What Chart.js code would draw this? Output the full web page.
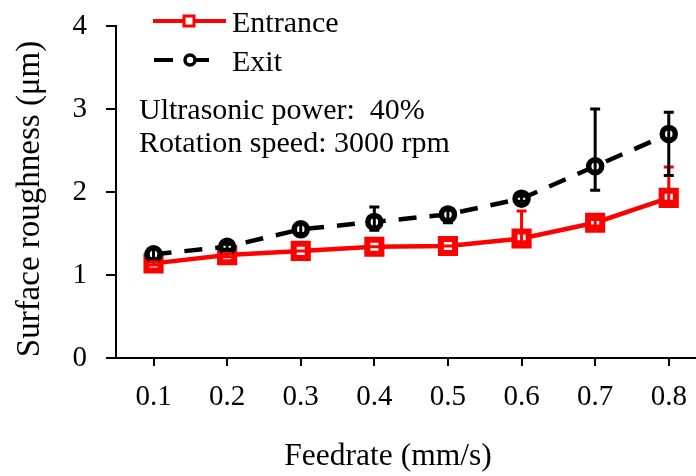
<!DOCTYPE html>
<html>
<head>
<meta charset="utf-8">
<script src="https://cdn.jsdelivr.net/npm/chart.js@4.4.1/dist/chart.umd.min.js"></script>
<style>
  html, body { margin: 0; padding: 0; background: #fff; overflow: hidden; }
  #wrap { width: 696px; height: 476px; position: relative; }
</style>
</head>
<body>
<div id="wrap"><canvas id="myChart"></canvas></div>
<script>
const feedrates = [0.1, 0.2, 0.3, 0.4, 0.5, 0.6, 0.7, 0.8];
const entrance = [1.14, 1.24, 1.29, 1.34, 1.35, 1.44, 1.63, 1.93];
const entrancePlus = [0.02, 0.02, 0, 0, 0, 0.33, 0.04, 0.37];
const entranceMinus = [0.02, 0.02, 0, 0, 0, 0.04, 0.04, 0.04];
const exit = [1.25, 1.34, 1.55, 1.64, 1.73, 1.92, 2.31, 2.70];
const exitPlus = [0.07, 0.03, 0.06, 0.18, 0.05, 0.03, 0.69, 0.26];
const exitMinus = [0.05, 0.03, 0.05, 0.10, 0.10, 0.03, 0.29, 0.50];
const yTicks = [0, 1, 2, 3, 4];
const notes = ['Ultrasonic power:  40%', 'Rotation speed: 3000 rpm'];
const xTitle = 'Feedrate (mm/s)';
const yTitle = 'Surface roughness (μm)';

const FONT = "'Liberation Serif', 'Times New Roman', serif";
const RED = '#ff0000';

const toPoints = (ys) => feedrates.map((x, i) => ({ x: x, y: ys[i] }));

// error bars drawn through the library scales
const errorBars = {
    id: 'errorBars',
    afterDatasetsDraw(chart) {
        const ctx = chart.ctx;
        const yScale = chart.scales.y;
        chart.data.datasets.forEach((ds, i) => {
            const meta = chart.getDatasetMeta(i);
            ctx.save();
            ctx.strokeStyle = ds.borderColor;
            ctx.lineWidth = 3;
            ctx.setLineDash([]);
            meta.data.forEach((pt, j) => {
                const v = ds.data[j].y;
                const top = yScale.getPixelForValue(v + ds.errPlus[j]);
                const bot = yScale.getPixelForValue(v - ds.errMinus[j]);
                ctx.beginPath();
                ctx.moveTo(pt.x, top);
                ctx.lineTo(pt.x, bot);
                ctx.moveTo(pt.x - 5, top);
                ctx.lineTo(pt.x + 5, top);
                ctx.moveTo(pt.x - 5, bot);
                ctx.lineTo(pt.x + 5, bot);
                ctx.stroke();
            });
            ctx.restore();
        });
    }
};

// legend, notes and axis titles
const legendNotes = {
    id: 'legendNotes',
    afterDraw(chart) {
        const ctx = chart.ctx;
        const a = chart.chartArea;
        const x0 = a.left + 37;
        ctx.save();
        ctx.font = '30px ' + FONT;
        ctx.fillStyle = '#000';
        ctx.textBaseline = 'alphabetic';

        // Entrance
        let y = a.top - 5;
        ctx.strokeStyle = RED;
        ctx.lineWidth = 4;
        ctx.beginPath();
        ctx.moveTo(x0, y);
        ctx.lineTo(x0 + 73, y);
        ctx.stroke();
        ctx.fillStyle = '#fff';
        ctx.lineWidth = 3;
        ctx.fillRect(x0 + 31, y - 5, 10, 10);
        ctx.strokeRect(x0 + 31, y - 5, 10, 10);
        ctx.fillStyle = '#000';
        ctx.fillText('Entrance', x0 + 79, y + 11);

        // Exit
        y = a.top + 34;
        ctx.strokeStyle = '#000';
        ctx.lineWidth = 4;
        ctx.setLineDash([19, 17]);
        ctx.beginPath();
        ctx.moveTo(x0 + 1, y);
        ctx.lineTo(x0 + 56, y);
        ctx.stroke();
        ctx.setLineDash([]);
        ctx.lineWidth = 3.5;
        ctx.fillStyle = '#fff';
        ctx.beginPath();
        ctx.arc(x0 + 37, y, 5, 0, Math.PI * 2);
        ctx.fill();
        ctx.stroke();
        ctx.fillStyle = '#000';
        ctx.fillText('Exit', x0 + 79, y + 11);

        // notes
        ctx.fillText(notes[0], x0 - 14, a.top + 93);
        ctx.fillText(notes[1], x0 - 14, a.top + 126);

        // axis titles
        ctx.font = '31.5px ' + FONT;
        ctx.textAlign = 'center';
        ctx.fillText(xTitle, 388, a.bottom + 107);
        ctx.translate(39, (a.top + a.bottom) / 2 + 7);
        ctx.rotate(-Math.PI / 2);
        ctx.font = '33px ' + FONT;
        ctx.fillText(yTitle, 0, 0);
        ctx.restore();
    }
};

const ctx = document.getElementById('myChart').getContext('2d');
const chart = new Chart(ctx, {
    type: 'line',
    data: {
        datasets: [{
            label: 'Entrance',
            data: toPoints(entrance),
            errPlus: entrancePlus,
            errMinus: entranceMinus,
            borderColor: RED,
            backgroundColor: '#fff',
            borderWidth: 4.5,
            pointStyle: 'rect',
            pointRadius: 10,
            pointBorderWidth: 6,
            order: 1
        }, {
            label: 'Exit',
            data: toPoints(exit),
            errPlus: exitPlus,
            errMinus: exitMinus,
            borderColor: '#000',
            backgroundColor: '#fff',
            borderWidth: 4.5,
            borderDash: [18, 13],
            pointStyle: 'circle',
            pointRadius: 6.5,
            pointBorderWidth: 5.5,
            order: 0
        }]
    },
    options: {
        responsive: true,
        maintainAspectRatio: false,
        animation: false,
        devicePixelRatio: 1,
        layout: { autoPadding: false, padding: { top: 26, right: 0, left: 0, bottom: 0 } },
        plugins: {
            legend: { display: false },
            tooltip: { enabled: false }
        },
        scales: {
            x: {
                type: 'linear',
                min: 0.049,
                max: 0.837,
                afterBuildTicks: (s) => { s.ticks = feedrates.map(v => ({ value: v })); },
                afterFit: (s) => { s.height = 118; s.paddingLeft = 0; s.paddingRight = 0; },
                grid: { drawOnChartArea: false, tickLength: 8, lineWidth: 2, color: '#000' },
                border: { display: true, color: '#000', width: 2 },
                ticks: {
                    color: '#000',
                    font: { family: FONT, size: 29 },
                    padding: 14,
                    maxRotation: 0,
                    callback: (v) => v.toFixed(1)
                }
            },
            y: {
                min: 0,
                max: 4,
                afterBuildTicks: (s) => { s.ticks = yTicks.map(v => ({ value: v })); },
                afterFit: (s) => { s.width = 116; s.paddingTop = 0; s.paddingBottom = 0; },
                grid: { drawOnChartArea: false, tickLength: 10, lineWidth: 2, color: '#000' },
                border: { display: true, color: '#000', width: 2 },
                ticks: {
                    color: '#000',
                    font: { family: FONT, size: 29 },
                    padding: 19
                }
            }
        }
    },
    plugins: [errorBars, legendNotes]
});
</script>
</body>
</html>
